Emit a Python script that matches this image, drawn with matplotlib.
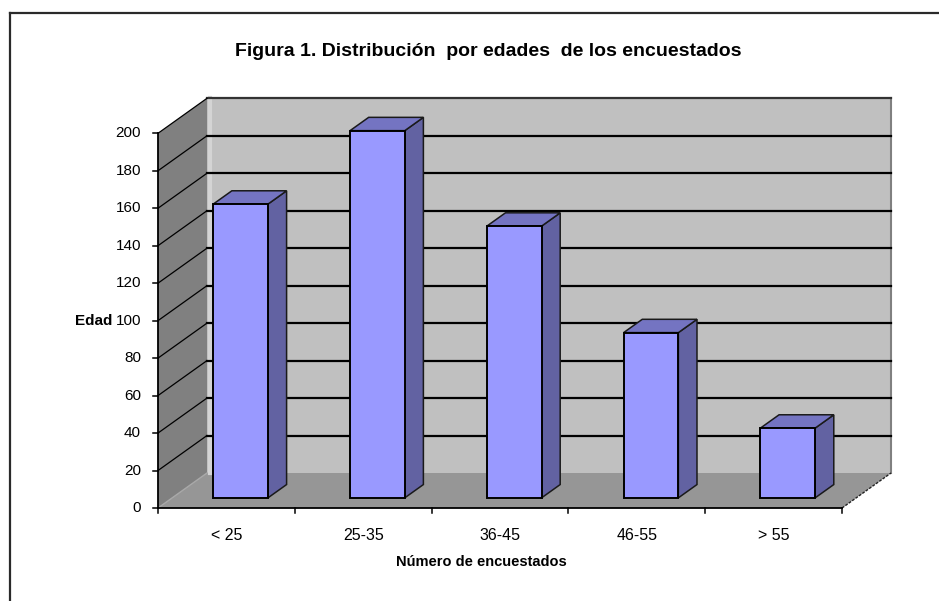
import numpy as np
import matplotlib
matplotlib.use("Agg")
import matplotlib.pyplot as plt
from matplotlib.patches import Polygon
from matplotlib.lines import Line2D

plt.rcParams['font.family'] = ['Liberation Sans', 'DejaVu Sans']

# data
categories = ['< 25', '25-35', '36-45', '46-55', '> 55']
counts = [160, 200, 148, 90, 38]
y_ticks = [0, 20, 40, 60, 80, 100, 120, 140, 160, 180, 200]

title = 'Figura 1. Distribución  por edades  de los encuestados'
xlabel = 'Número de encuestados'
ylabel = 'Edad'

# layout (pixels on a 939x601 canvas)
W, H = 939, 601
X0, Y0 = 158, 508          # front-left corner of the floor
PX_CAT = 136.8             # px per category
PX_UNIT = 1.8735           # px per value unit
DX = 49 / PX_CAT           # depth offset in category units
DY = 35 / PX_UNIT          # depth offset in value units
YMAX = 200


def P(x, v, d=0.0):
    # oblique projection: category x, value v, depth d (0 front, 1 back)
    return (x + d * DX, v + d * DY)


fig = plt.figure(figsize=(W / 100, H / 100), dpi=100)
ax = fig.add_axes([0, 0, 1, 1])
ax.set_xlim(-X0 / PX_CAT, (W - X0) / PX_CAT)
ax.set_ylim((Y0 - H) / PX_UNIT, Y0 / PX_UNIT)
ax.axis('off')

n = len(categories)

# walls and floor
side = [P(0, 0, 0), P(0, YMAX, 0), P(0, YMAX, 1), P(0, 0, 1)]
floor = [P(0, 0, 0), P(n, 0, 0), P(n, 0, 1), P(0, 0, 1)]
back = [P(0, 0, 1), P(n, 0, 1), P(n, YMAX, 1), P(0, YMAX, 1)]
ax.add_patch(Polygon(side, closed=True, fc='#808080', ec='none', zorder=1))
ax.add_patch(Polygon(floor, closed=True, fc='#969696', ec='none', zorder=1))
ax.add_patch(Polygon(back, closed=True, fc='#c0c0c0', ec='none', zorder=1))

# light edge where the side wall meets the back wall
ax.plot(*zip(P(0.025, 0, 1), P(0.025, YMAX, 1)), color='#d4d4d4', lw=3, zorder=1.5)
# right edge of back wall
ax.plot(*zip(P(n, 0, 1), P(n, YMAX, 1)), color='#808080', lw=1.5, zorder=2)

# gridlines
for v in y_ticks[1:]:
    c = '#333333' if v == YMAX else 'black'
    ax.plot(*zip(P(0, v, 1), P(n, v, 1)), color=c, lw=1.6, zorder=2)
    ax.plot(*zip(P(0, v, 0), P(0, v, 1)), color='black', lw=0.9, zorder=2)

# floor edges
ax.plot(*zip(P(n, 0, 0), P(n, 0, 1)), color='#222222', lw=1.0, ls=(0, (2, 1)), zorder=2)
ax.plot(*zip(P(0, 0, 0), P(0, 0, 1)), color='#a8a8a8', lw=1.0, zorder=2)

# bars
w = 0.2
d0, d1 = 0.29, 0.67
vscale = 0.98
for i, v in enumerate(counts):
    xc = i + 0.5
    h = v * vscale
    front = [P(xc - w, 0, d0), P(xc + w, 0, d0), P(xc + w, h, d0), P(xc - w, h, d0)]
    right = [P(xc + w, 0, d0), P(xc + w, 0, d1), P(xc + w, h, d1), P(xc + w, h, d0)]
    top = [P(xc - w, h, d0), P(xc + w, h, d0), P(xc + w, h, d1), P(xc - w, h, d1)]
    ax.add_patch(Polygon(right, closed=True, fc='#6262a2', ec='#1a1a1a', lw=1.1, zorder=3))
    ax.add_patch(Polygon(top, closed=True, fc='#7474c2', ec='#1a1a1a', lw=1.1, zorder=3))
    ax.add_patch(Polygon(front, closed=True, fc='#9999ff', ec='black', lw=1.4, zorder=4))

# axes lines and ticks
ax.plot(*zip(P(0, 0), P(n, 0)), color='black', lw=1.3, zorder=5)
ax.plot(*zip(P(0, 0), P(0, YMAX)), color='black', lw=1.3, zorder=5)
tick_dx = 5 / PX_CAT
tick_dy = 5 / PX_UNIT
for v in y_ticks:
    ax.plot([-tick_dx, 0], [v, v], color='black', lw=1.1, zorder=5)
    ax.text(-17 / PX_CAT, v, str(v), ha='right', va='center', fontsize=11)
for i in range(n + 1):
    ax.plot([i, i], [0, -tick_dy], color='black', lw=1.1, zorder=5)
for i, lab in enumerate(categories):
    ax.text(i + 0.5, -28 / PX_UNIT, lab, ha='center', va='center', fontsize=11.5)

ax.text((481 - X0) / PX_CAT, (Y0 - 562) / PX_UNIT, xlabel, ha='center', va='center',
        fontsize=10.5, fontweight='bold')
ax.text((112 - X0) / PX_CAT, 100, ylabel, ha='right', va='center',
        fontsize=11, fontweight='bold')

fig.text(488 / W, 1 - 52 / H, title, ha='center', va='center', fontsize=14, fontweight='bold')

# outer frame (left and top only)
fig.add_artist(Line2D([9.5 / W, 9.5 / W], [0, 1 - 13 / H], color='#2a2a2a', lw=1.6))
fig.add_artist(Line2D([9.5 / W, 1], [1 - 13 / H, 1 - 13 / H], color='#2a2a2a', lw=1.6))

fig.savefig('out.png', dpi=100)
